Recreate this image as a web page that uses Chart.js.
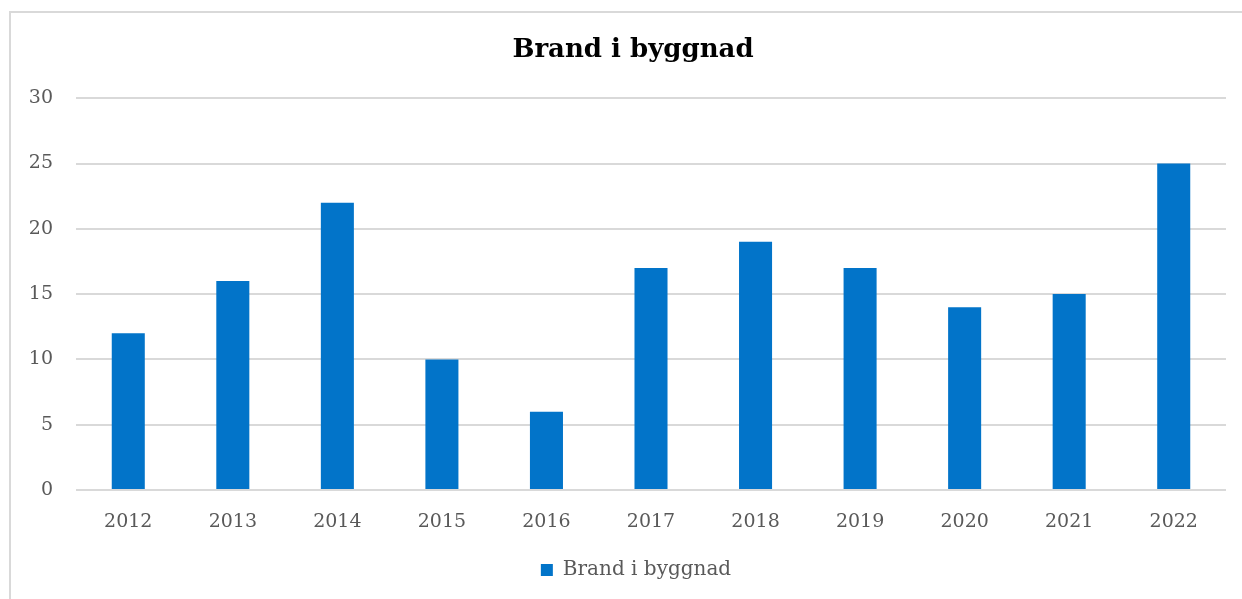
<!DOCTYPE html>
<html>
<head>
<meta charset="utf-8">
<script src="https://cdn.jsdelivr.net/npm/chart.js@4/dist/chart.umd.min.js"></script>
<style>
  html, body { margin: 0; padding: 0; background: #ffffff; overflow: hidden; }
  #wrap { position: absolute; left: 0; top: 0; width: 1242px; height: 599px; }
</style>
</head>
<body>
<div id="wrap"><canvas id="c" width="1242" height="599"></canvas></div>
<script>
const categories = ["2012","2013","2014","2015","2016","2017","2018","2019","2020","2021","2022"];
const brandValues = [12, 16, 22, 10, 6, 17, 19, 17, 14, 15, 25];
const seriesName = "Brand i byggnad";
const chartTitle = "Brand i byggnad";
const yTicks = [0, 5, 10, 15, 20, 25, 30];

const FONT = "'DejaVu Serif', Georgia, serif";

// shift title and legend horizontally so they centre like the reference
const shiftBlocks = {
  id: 'shiftBlocks',
  afterLayout(chart) {
    if (chart.titleBlock) { chart.titleBlock.left += 20; chart.titleBlock.right += 20; }
    if (chart.legend) { chart.legend.left += 23; chart.legend.right += 23; }
  }
};

// chart-area outline (top and left edges of the outer chart frame)
const outerFrame = {
  id: 'outerFrame',
  beforeDraw(chart) {
    const ctx = chart.ctx;
    ctx.save();
    ctx.strokeStyle = '#d9d9d9';
    ctx.lineWidth = 2;
    ctx.beginPath();
    ctx.moveTo(10, chart.height);
    ctx.lineTo(10, 12);
    ctx.lineTo(chart.width, 12);
    ctx.stroke();
    ctx.restore();
  }
};

new Chart(document.getElementById('c'), {
  type: 'bar',
  data: {
    labels: categories,
    datasets: [{
      label: seriesName,
      data: brandValues,
      backgroundColor: '#0274C9',
      borderWidth: 0,
      barPercentage: 0.316,
      categoryPercentage: 1.0
    }]
  },
  plugins: [shiftBlocks, outerFrame],
  options: {
    responsive: false,
    animation: false,
    layout: { padding: { left: 0, right: 16, top: 0, bottom: 9 } },
    plugins: {
      title: {
        display: true,
        text: chartTitle,
        color: '#000000',
        font: { family: FONT, size: 26, weight: 'bold' },
        padding: { top: 35, bottom: 32 }
      },
      legend: {
        display: true,
        position: 'bottom',
        labels: {
          color: '#595959',
          font: { family: FONT, size: 20 },
          boxWidth: 12,
          boxHeight: 12,
          padding: 10
        }
      },
      tooltip: { enabled: false }
    },
    scales: {
      x: {
        grid: { display: false, drawTicks: false },
        border: { display: false },
        ticks: { color: '#595959', font: { family: FONT, size: 19 }, padding: 21, maxRotation: 0 },
        afterFit: (s) => { s.height = 60; }
      },
      y: {
        min: 0,
        max: 30,
        afterBuildTicks: (s) => { s.ticks = yTicks.map(v => ({ value: v })); },
        grid: { color: '#d9d9d9', lineWidth: 2, drawTicks: false },
        border: { display: false },
        ticks: { color: '#595959', font: { family: FONT, size: 19 }, padding: 23 },
        afterFit: (s) => { s.width = 76; }
      }
    }
  }
});
</script>
</body>
</html>
